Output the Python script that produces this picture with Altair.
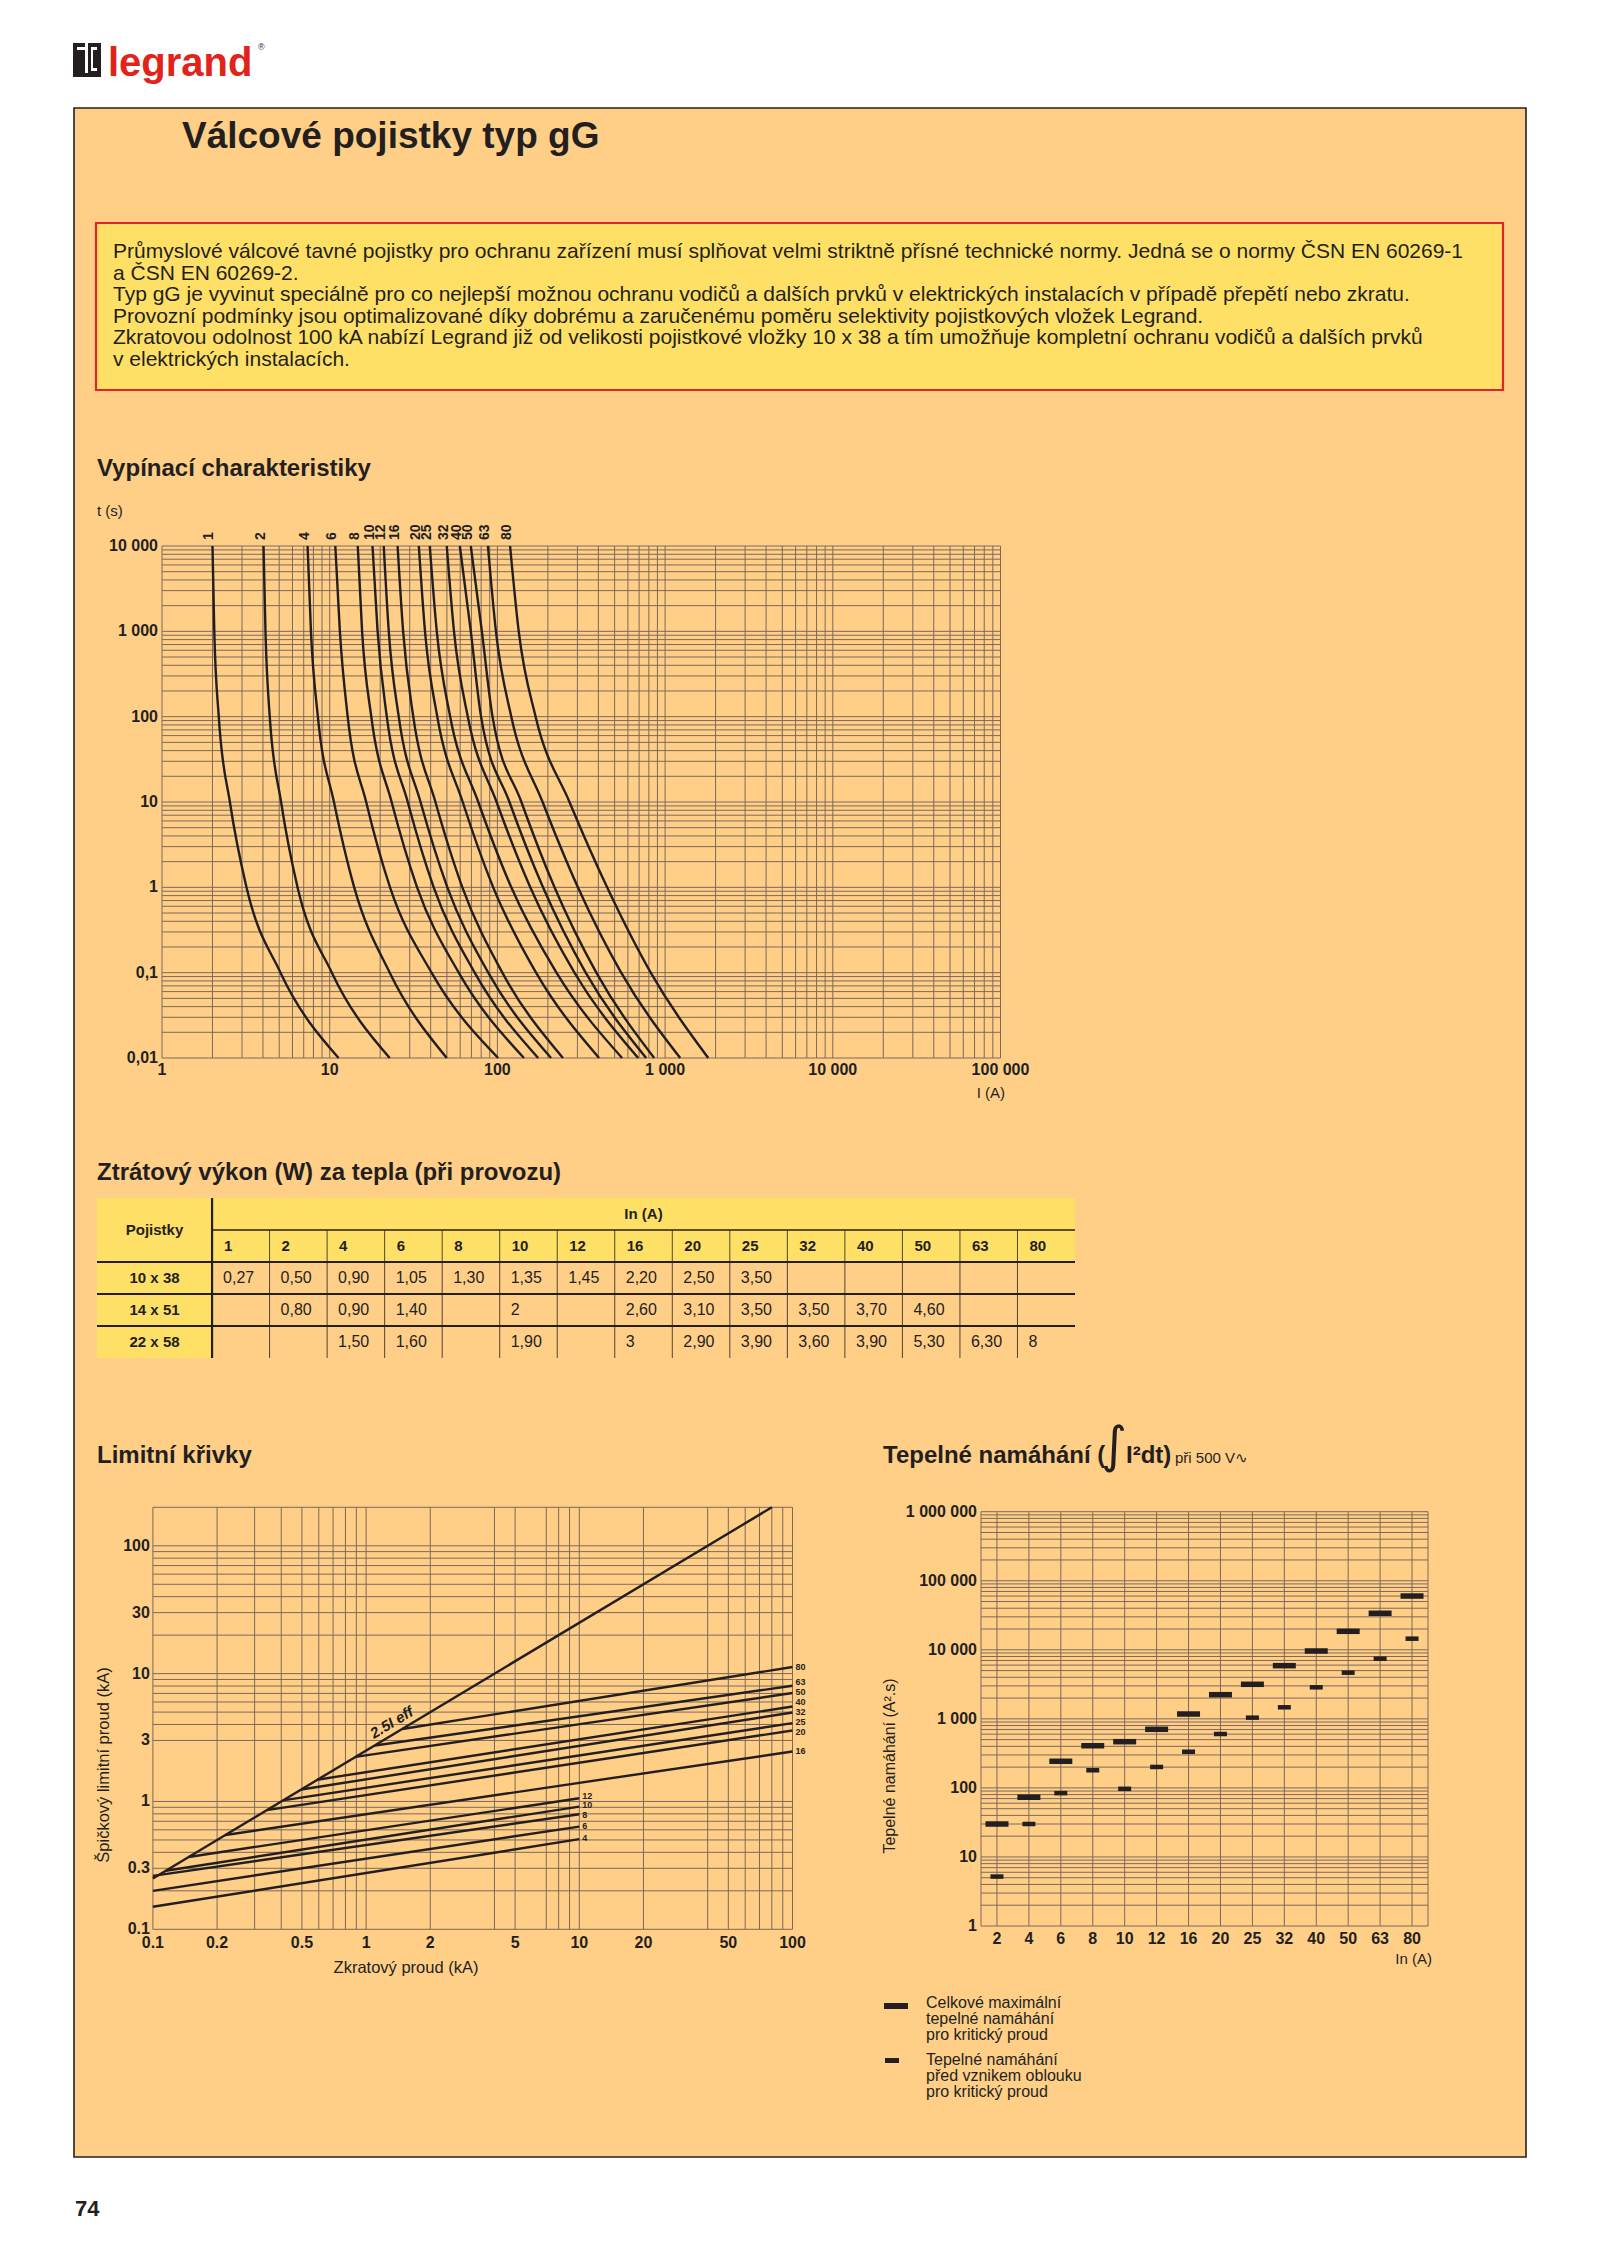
import altair as alt
import pandas as pd

# ------------------------------------------------------------------ data
# Vypínací charakteristiky: current I (A) read at each time level t (s)
trip_t = [10000, 1000, 100, 10, 1, 0.1, 0.01]
trip_ratings = ["1", "2", "4", "6", "8", "10", "12", "16", "20", "25", "32", "40", "50", "63", "80"]
trip_1 = [2.00, 2.05, 2.18, 2.54, 3.19, 5.09, 11.3]
trip_2 = [4.03, 4.14, 4.39, 5.13, 6.43, 10.3, 22.8]
trip_4 = [7.38, 7.73, 8.50, 10.6, 14.0, 22.8, 49.9]
trip_6 = [10.8, 11.5, 12.8, 16.5, 22.9, 40.5, 101]
trip_8 = [14.7, 15.6, 17.7, 23.4, 33.2, 58.8, 144]
trip_10 = [18.0, 19.3, 21.9, 29.2, 41.7, 73.2, 175]
trip_12 = [21.0, 22.5, 25.8, 34.8, 50.3, 88.2, 209]
trip_16 = [25.4, 27.4, 31.5, 42.7, 61.8, 107, 246]
trip_20 = [34.0, 37.0, 43.8, 62.1, 94.4, 170, 404]
trip_25 = [39.5, 43.5, 52.3, 76.9, 121, 225, 554]
trip_32 = [49.9, 55.1, 66.6, 98.9, 157, 288, 691]
trip_40 = [59.7, 69.4, 79.9, 118, 187, 336, 771]
trip_50 = [69.4, 80.8, 93.5, 139, 219, 389, 861]
trip_63 = [87.8, 98.0, 121, 186, 302, 547, 1231]
trip_80 = [119, 134, 169, 269, 451, 821, 1809]
trip_series = [trip_1, trip_2, trip_4, trip_6, trip_8, trip_10, trip_12, trip_16,
               trip_20, trip_25, trip_32, trip_40, trip_50, trip_63, trip_80]
trip_x_ticks = [1, 10, 100, 1000, 10000, 100000]
trip_x_labels = ["1", "10", "100", "1 000", "10 000", "100 000"]
trip_y_ticks = [0.01, 0.1, 1, 10, 100, 1000, 10000]
trip_y_labels = ["0,01", "0,1", "1", "10", "100", "1 000", "10 000"]

# Ztrátový výkon table
tab_cols = ["1", "2", "4", "6", "8", "10", "12", "16", "20", "25", "32", "40", "50", "63", "80"]
tab_rows = ["10 x 38", "14 x 51", "22 x 58"]
tab_10x38 = ["0,27", "0,50", "0,90", "1,05", "1,30", "1,35", "1,45", "2,20", "2,50", "3,50", "", "", "", "", ""]
tab_14x51 = ["", "0,80", "0,90", "1,40", "", "2", "", "2,60", "3,10", "3,50", "3,50", "3,70", "4,60", "", ""]
tab_22x58 = ["", "", "1,50", "1,60", "", "1,90", "", "3", "2,90", "3,90", "3,60", "3,90", "5,30", "6,30", "8"]
tab_values = [tab_10x38, tab_14x51, tab_22x58]

# Limitní křivky (kA)
lim_labels = ["4", "6", "8", "10", "12", "16", "20", "25", "32", "40", "50", "63", "80"]
lim_x_start = [0.1, 0.1, 0.1, 0.115, 0.147, 0.219, 0.342, 0.407, 0.496, 0.590, 0.891, 1.10, 1.48]
lim_y_start = [0.150, 0.200, 0.262, 0.287, 0.368, 0.547, 0.856, 1.02, 1.24, 1.48, 2.23, 2.74, 3.69]
lim_x_end = [10, 10, 10, 10, 10, 100, 100, 100, 100, 100, 100, 100, 100]
lim_y_end = [0.507, 0.636, 0.795, 0.912, 1.06, 2.46, 3.59, 4.10, 4.97, 5.53, 7.05, 8.04, 11.26]
lim_label_y = [0.516, 0.648, 0.786, 0.941, 1.112, 2.49, 3.48, 4.16, 4.99, 5.97, 7.15, 8.56, 11.18]
lim_eff_x = [0.1, 80]
lim_eff_y = [0.25, 200]
lim_x_ticks = [0.1, 0.2, 0.5, 1, 2, 5, 10, 20, 50, 100]
lim_x_labels = ["0.1", "0.2", "0.5", "1", "2", "5", "10", "20", "50", "100"]
lim_y_ticks = [0.1, 0.3, 1, 3, 10, 30, 100]
lim_y_labels = ["0.1", "0.3", "1", "3", "10", "30", "100"]
lim_grid_x = [0.1, 0.2, 0.3, 0.4, 0.5, 0.6, 0.7, 0.8, 0.9, 1, 2, 4, 5, 7, 8, 9,
              10, 20, 40, 50, 60, 70, 80, 90, 100]
lim_grid_y = [0.1, 0.2, 0.3, 0.4, 0.5, 0.6, 0.7, 0.8, 0.9, 1, 3, 4, 5, 6, 7, 8, 9,
              10, 20, 30, 40, 50, 60, 70, 80, 90, 100, 200]

# Tepelné namáhání (A².s)
th_cats = ["2", "4", "6", "8", "10", "12", "16", "20", "25", "32", "40", "50", "63", "80"]
th_total = [30, 73, 243, 408, 467, 706, 1175, 2238, 3165, 5890, 9610, 18530, 33800, 60100]
th_prearc = [5.2, 30, 84, 180, 97, 201, 334, 603, 1040, 1470, 2864, 4660, 7430, 14490]
th_y_ticks = [1, 10, 100, 1000, 10000, 100000, 1000000]
th_y_labels = ["1", "10", "100", "1 000", "10 000", "100 000", "1 000 000"]

intro_lines = [
    "Průmyslové válcové tavné pojistky pro ochranu zařízení musí splňovat velmi striktně přísné technické normy. Jedná se o normy ČSN EN 60269-1",
    "a ČSN EN 60269-2.",
    "Typ gG je vyvinut speciálně pro co nejlepší možnou ochranu vodičů a dalších prvků v elektrických instalacích v případě přepětí nebo zkratu.",
    "Provozní podmínky jsou optimalizované díky dobrému a zaručenému poměru selektivity pojistkových vložek Legrand.",
    "Zkratovou odolnost 100 kA nabízí Legrand již od velikosti pojistkové vložky 10 x 38 a tím umožňuje kompletní ochranu vodičů a dalších prvků",
    "v elektrických instalacích.",
]
legend_total = ["Celkové maximální", "tepelné namáhání", "pro kritický proud"]
legend_prearc = ["Tepelné namáhání", "před vznikem oblouku", "pro kritický proud"]

# ------------------------------------------------------------------ style / layout
DARK = "#231F20"
ORANGE = "#FFCF88"
YELLOW = "#FFE066"
RED = "#E3232B"
LOGO_RED = "#E2231A"
GRID = "#7E685B"
FONT = "Liberation Sans, Arial, Helvetica, sans-serif"


def px(v):
    return v - 8  # page coordinate -> chart coordinate (8px body margin)


ONE = pd.DataFrame({"k": [0]})
L = []


def label(text, x, y, size=15, weight="normal", align="left", angle=0, color=DARK,
          font=FONT, baseline="alphabetic", style="normal"):
    L.append(alt.Chart(ONE).mark_text(
        text=text, align=align, baseline=baseline, fontSize=size, fontWeight=weight,
        font=font, color=color, angle=angle, fontStyle=style
    ).encode(x=alt.value(px(x)), y=alt.value(px(y))))


def box(x1, y1, x2, y2, fill, stroke="transparent", sw=0):
    L.append(alt.Chart(ONE).mark_rect(fill=fill, stroke=stroke, strokeWidth=sw).encode(
        x=alt.value(px(x1)), x2=alt.value(px(x2)), y=alt.value(px(y1)), y2=alt.value(px(y2))))


# ------------------------------------------------------------------ page decoration
box(74, 108, 1526, 2157, ORANGE, DARK, 1.6)
# logo
box(73, 43, 101, 77, DARK)
box(85, 43, 88, 73, "white")
box(77, 47, 85, 50, "white")
box(91, 47, 97, 71, "white")
box(93, 50, 97, 68, DARK)
label("legrand", 108, 76, size=40, weight="bold", color=LOGO_RED)
label("®", 258, 50, size=9, color=DARK)

label("Válcové pojistky typ gG", 182, 148, size=37, weight="bold")

box(96, 223, 1503, 390, YELLOW, RED, 2.2)
for i, line in enumerate(intro_lines):
    label(line, 113, 258 + 21.5 * i, size=21)

label("Vypínací charakteristiky", 97, 476, size=24, weight="bold")
label("t (s)", 97, 516, size=15)
label("I (A)", 1005, 1098, size=15, align="right")

label("Ztrátový výkon (W) za tepla (při provozu)", 97, 1180, size=24, weight="bold")

label("Limitní křivky", 97, 1463, size=24, weight="bold")
label("Špičkový limitní proud (kA)", 104, 1765, size=16.5, angle=270, align="center", baseline="middle")
label("Zkratový proud (kA)", 406, 1973, size=16.5, align="center")

label("Tepelné namáhání (", 883, 1463, size=24, weight="bold")
label("∫", 1114, 1462, size=50, align="center", font="DejaVu Sans, Liberation Sans, sans-serif")
label("I²dt)", 1126, 1463, size=24, weight="bold")
label("při 500 V∿", 1175, 1463, size=15, font="Liberation Sans, DejaVu Sans, sans-serif")
label("Tepelné namáhání (A².s)", 890, 1766, size=16, angle=270, align="center", baseline="middle")
label("In (A)", 1432, 1964, size=15, align="right")

# legend of the thermal chart
box(884, 2003, 908, 2009, DARK)
box(885, 2058, 899, 2063, DARK)
for i, line in enumerate(legend_total):
    label(line, 926, 2008 + 16 * i, size=16)
for i, line in enumerate(legend_prearc):
    label(line, 926, 2065 + 16 * i, size=16)

label("74", 75, 2216, size=22, weight="bold")

# ------------------------------------------------------------------ trip curves
TRIP_X = alt.Scale(type="log", domain=[1, 100000], range=[px(162), px(1000.5)])
TRIP_Y = alt.Scale(type="log", domain=[0.01, 10000], range=[px(1058), px(546)])
trip_grid_x = [m * 10 ** k for k in range(5) for m in range(1, 10)] + [100000]
trip_grid_y = [round(m * 10.0 ** k, 6) for k in range(-2, 4) for m in range(1, 10)] + [10000]

L.append(alt.Chart(pd.DataFrame({"g": trip_grid_x, "lo": 0.01, "hi": 10000})).mark_rule(
    color=GRID, strokeWidth=1).encode(
    x=alt.X("g:Q", scale=TRIP_X, axis=None), y=alt.Y("lo:Q", scale=TRIP_Y, axis=None), y2="hi:Q"))
L.append(alt.Chart(pd.DataFrame({"g": trip_grid_y, "lo": 1, "hi": 100000})).mark_rule(
    color=GRID, strokeWidth=1).encode(
    y=alt.Y("g:Q", scale=TRIP_Y, axis=None), x=alt.X("lo:Q", scale=TRIP_X, axis=None), x2="hi:Q"))

trip_rows = [{"rating": r, "I": i, "t": t}
             for r, s in zip(trip_ratings, trip_series) for t, i in zip(trip_t, s)]
L.append(alt.Chart(pd.DataFrame(trip_rows)).mark_line(
    color=DARK, strokeWidth=2.4, interpolate="monotone").encode(
    x=alt.X("I:Q", scale=TRIP_X, axis=None), y=alt.Y("t:Q", scale=TRIP_Y, axis=None),
    detail="rating:N"))
L.append(alt.Chart(pd.DataFrame({"rating": trip_ratings, "I": [s[0] for s in trip_series],
                                  "t": trip_t[0]})).mark_text(
    angle=270, align="left", baseline="middle", dx=6, dy=-3, fontSize=14, fontWeight="bold",
    font=FONT, color=DARK).encode(
    x=alt.X("I:Q", scale=TRIP_X, axis=None), y=alt.Y("t:Q", scale=TRIP_Y, axis=None),
    text="rating:N"))
L.append(alt.Chart(pd.DataFrame({"v": trip_x_ticks, "lab": trip_x_labels, "lo": 0.01})).mark_text(
    baseline="alphabetic", dy=17, fontSize=16, fontWeight="bold", font=FONT, color=DARK).encode(
    x=alt.X("v:Q", scale=TRIP_X, axis=None), y=alt.Y("lo:Q", scale=TRIP_Y, axis=None), text="lab:N"))
L.append(alt.Chart(pd.DataFrame({"v": trip_y_ticks, "lab": trip_y_labels, "lo": 1})).mark_text(
    align="right", baseline="middle", dx=-4, fontSize=16, fontWeight="bold", font=FONT, color=DARK).encode(
    y=alt.Y("v:Q", scale=TRIP_Y, axis=None), x=alt.X("lo:Q", scale=TRIP_X, axis=None), text="lab:N"))

# ------------------------------------------------------------------ table
TAB_X = alt.Scale(type="linear", domain=[0, 17], range=[px(97), px(1075)], nice=False, zero=False)
TAB_Y = alt.Scale(type="linear", domain=[0, 5], range=[px(1198), px(1358)], nice=False, zero=False)
ncol = len(tab_cols) + 2
nrow = len(tab_rows) + 2


def tab_rect(df, color):
    L.append(alt.Chart(df).mark_rect(fill=color).encode(
        x=alt.X("x0:Q", scale=TAB_X, axis=None), x2="x1:Q",
        y=alt.Y("y0:Q", scale=TAB_Y, axis=None), y2="y1:Q"))


tab_rect(pd.DataFrame({"x0": [0, 0], "x1": [ncol, 2], "y0": [0, 0], "y1": [2, nrow]}), YELLOW)


def tab_hline(ys, x0, x1, width):
    L.append(alt.Chart(pd.DataFrame({"y": ys, "x0": x0, "x1": x1})).mark_rule(
        color=DARK, strokeWidth=width).encode(
        y=alt.Y("y:Q", scale=TAB_Y, axis=None), x=alt.X("x0:Q", scale=TAB_X, axis=None), x2="x1:Q"))


def tab_vline(xs, y0, y1, width):
    L.append(alt.Chart(pd.DataFrame({"x": xs, "y0": y0, "y1": y1})).mark_rule(
        color=DARK, strokeWidth=width).encode(
        x=alt.X("x:Q", scale=TAB_X, axis=None), y=alt.Y("y0:Q", scale=TAB_Y, axis=None), y2="y1:Q"))


tab_vline(list(range(3, ncol)), 1, nrow, 0.8)
tab_hline([1], 2, ncol, 1.4)
tab_hline([2, 3, 4], 0, ncol, 2.2)
tab_vline([2], 0, nrow, 2.2)


def tab_text(df, weight="normal", align="left", dx=0, size=15):
    L.append(alt.Chart(df).mark_text(
        align=align, baseline="middle", dx=dx, fontSize=size, fontWeight=weight, font=FONT, color=DARK).encode(
        x=alt.X("x:Q", scale=TAB_X, axis=None), y=alt.Y("y:Q", scale=TAB_Y, axis=None), text="t:N"))


tab_text(pd.DataFrame({"x": [1, 9.5], "y": [1, 0.5], "t": ["Pojistky", "In (A)"]}), "bold", "center")
tab_text(pd.DataFrame({"x": [2 + i for i in range(len(tab_cols))], "y": 1.5, "t": tab_cols}), "bold", "left", 12)
tab_text(pd.DataFrame({"x": 1, "y": [2.5 + r for r in range(len(tab_rows))], "t": tab_rows}), "bold", "center")
cells = [{"x": 2 + i, "y": 2.5 + r, "t": v}
         for r, vals in enumerate(tab_values) for i, v in enumerate(vals) if v]
tab_text(pd.DataFrame(cells), "normal", "left", 11, 16)

# ------------------------------------------------------------------ limit curves
LIM_X = alt.Scale(type="log", domain=[0.1, 100], range=[px(152.9), px(792.5)])
LIM_Y = alt.Scale(type="log", domain=[0.1, 200], range=[px(1929.3), px(1507.3)])
L.append(alt.Chart(pd.DataFrame({"g": lim_grid_x, "lo": 0.1, "hi": 200})).mark_rule(
    color=GRID, strokeWidth=1).encode(
    x=alt.X("g:Q", scale=LIM_X, axis=None), y=alt.Y("lo:Q", scale=LIM_Y, axis=None), y2="hi:Q"))
L.append(alt.Chart(pd.DataFrame({"g": lim_grid_y, "lo": 0.1, "hi": 100})).mark_rule(
    color=GRID, strokeWidth=1).encode(
    y=alt.Y("g:Q", scale=LIM_Y, axis=None), x=alt.X("lo:Q", scale=LIM_X, axis=None), x2="hi:Q"))
L.append(alt.Chart(pd.DataFrame({"x": lim_eff_x, "y": lim_eff_y})).mark_line(
    color=DARK, strokeWidth=2.4).encode(
    x=alt.X("x:Q", scale=LIM_X, axis=None), y=alt.Y("y:Q", scale=LIM_Y, axis=None)))
lim_rows = []
for lab, xa, ya, xb, yb in zip(lim_labels, lim_x_start, lim_y_start, lim_x_end, lim_y_end):
    lim_rows.append({"lab": lab, "x": xa, "y": ya})
    lim_rows.append({"lab": lab, "x": xb, "y": yb})
L.append(alt.Chart(pd.DataFrame(lim_rows)).mark_line(color=DARK, strokeWidth=2.4).encode(
    x=alt.X("x:Q", scale=LIM_X, axis=None), y=alt.Y("y:Q", scale=LIM_Y, axis=None), detail="lab:N"))
L.append(alt.Chart(pd.DataFrame({"lab": lim_labels, "x": lim_x_end, "y": lim_label_y})).mark_text(
    align="left", baseline="middle", dx=3, fontSize=9, fontWeight="bold", font=FONT, color=DARK).encode(
    x=alt.X("x:Q", scale=LIM_X, axis=None), y=alt.Y("y:Q", scale=LIM_Y, axis=None), text="lab:N"))
L.append(alt.Chart(pd.DataFrame({"x": [1.4], "y": [3.5], "t": ["2.5I eff"]})).mark_text(
    angle=329, align="center", baseline="bottom", dy=-3, fontSize=15, fontWeight="bold",
    fontStyle="italic", font=FONT, color=DARK).encode(
    x=alt.X("x:Q", scale=LIM_X, axis=None), y=alt.Y("y:Q", scale=LIM_Y, axis=None), text="t:N"))
L.append(alt.Chart(pd.DataFrame({"v": lim_x_ticks, "lab": lim_x_labels, "lo": 0.1})).mark_text(
    baseline="alphabetic", dy=19, fontSize=16, fontWeight="bold", font=FONT, color=DARK).encode(
    x=alt.X("v:Q", scale=LIM_X, axis=None), y=alt.Y("lo:Q", scale=LIM_Y, axis=None), text="lab:N"))
L.append(alt.Chart(pd.DataFrame({"v": lim_y_ticks, "lab": lim_y_labels, "lo": 0.1})).mark_text(
    align="right", baseline="middle", dx=-3, fontSize=16, fontWeight="bold", font=FONT, color=DARK).encode(
    y=alt.Y("v:Q", scale=LIM_Y, axis=None), x=alt.X("lo:Q", scale=LIM_X, axis=None), text="lab:N"))

# ------------------------------------------------------------------ thermal stress
n_th = len(th_cats)
TH_X = alt.Scale(type="linear", domain=[0, n_th], range=[px(981), px(1428)], nice=False, zero=False)
TH_Y = alt.Scale(type="log", domain=[1, 1000000], range=[px(1926), px(1511.7)])
th_pos = [i + 0.5 for i in range(n_th)]
th_grid_y = [m * 10 ** k for k in range(6) for m in range(1, 10)] + [1000000]
L.append(alt.Chart(pd.DataFrame({"g": [0] + th_pos + [n_th], "lo": 1, "hi": 1000000})).mark_rule(
    color=GRID, strokeWidth=1).encode(
    x=alt.X("g:Q", scale=TH_X, axis=None), y=alt.Y("lo:Q", scale=TH_Y, axis=None), y2="hi:Q"))
L.append(alt.Chart(pd.DataFrame({"g": th_grid_y, "lo": 0, "hi": n_th})).mark_rule(
    color=GRID, strokeWidth=1).encode(
    y=alt.Y("g:Q", scale=TH_Y, axis=None), x=alt.X("lo:Q", scale=TH_X, axis=None), x2="hi:Q"))
L.append(alt.Chart(pd.DataFrame({"x": th_pos, "v": th_total})).mark_tick(
    orient="horizontal", size=23, thickness=5.5, color=DARK, opacity=1).encode(
    x=alt.X("x:Q", scale=TH_X, axis=None), y=alt.Y("v:Q", scale=TH_Y, axis=None)))
L.append(alt.Chart(pd.DataFrame({"x": th_pos, "v": th_prearc})).mark_tick(
    orient="horizontal", size=13, thickness=4.5, color=DARK, opacity=1).encode(
    x=alt.X("x:Q", scale=TH_X, axis=None), y=alt.Y("v:Q", scale=TH_Y, axis=None)))
L.append(alt.Chart(pd.DataFrame({"x": th_pos, "lab": th_cats, "lo": 1})).mark_text(
    baseline="alphabetic", dy=18, fontSize=16, fontWeight="bold", font=FONT, color=DARK).encode(
    x=alt.X("x:Q", scale=TH_X, axis=None), y=alt.Y("lo:Q", scale=TH_Y, axis=None), text="lab:N"))
L.append(alt.Chart(pd.DataFrame({"v": th_y_ticks, "lab": th_y_labels, "lo": 0})).mark_text(
    align="right", baseline="middle", dx=-4, fontSize=16, fontWeight="bold", font=FONT, color=DARK).encode(
    y=alt.Y("v:Q", scale=TH_Y, axis=None), x=alt.X("lo:Q", scale=TH_X, axis=None), text="lab:N"))

chart = alt.layer(*L).resolve_scale(x="independent", y="independent").properties(
    width=1584, height=2250, padding=0, autosize=alt.AutoSizeParams(type="none"),
    background="white").configure_view(stroke=None)

chart.save("out.html", embed_options={"renderer": "svg", "actions": False})
